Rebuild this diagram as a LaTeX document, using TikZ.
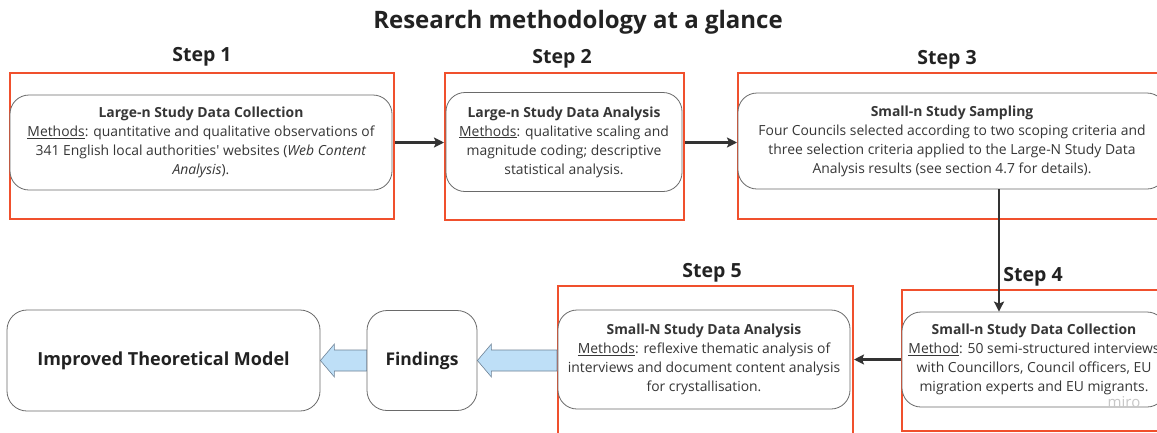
\documentclass[tikz,border=0pt]{standalone}
\usepackage{fontspec}
\setmainfont{Open Sans}
\usetikzlibrary{arrows.meta,calc}
\definecolor{redbox}{HTML}{F0502D}
\definecolor{boxline}{HTML}{6A6A6A}
\definecolor{txt}{HTML}{363636}
\definecolor{dark}{HTML}{222222}
\definecolor{blkfill}{HTML}{BEDFF7}
\definecolor{blkline}{HTML}{6E8296}
\definecolor{conncol}{HTML}{333333}
\newcommand{\straightapos}{{\addfontfeature{Ligatures=TeXOff}'}}
\begin{document}
\begin{tikzpicture}[x=1pt,y=-1pt,
  redrect/.style={draw=redbox,line width=2pt,inner sep=0pt,anchor=north west},
  stepbox/.style={draw=boxline,line width=0.8pt,rounded corners=19pt,fill=white,inner sep=0pt,
     align=center,text=txt,font=\fontsize{13.9}{19}\selectfont},
  steplabel/.style={font=\fontsize{19.5}{21}\selectfont\bfseries,text=dark},
  conn/.style={draw=conncol,line width=2.2pt,-{Stealth[length=10pt,width=10pt,inset=2pt]}},
  blk/.style={draw=blkline,line width=0.6pt,fill=blkfill,line join=miter}]
\useasboundingbox (0,0) rectangle (1157,432);
\fill[white] (0,0) rectangle (1157,432);

% title
\node[font=\fontsize{24}{26}\selectfont\bfseries,text=dark] (title) at (578,22) {Research methodology at a glance};

% red frames
\node[redrect,minimum width=384pt,minimum height=146pt] (r1) at (9,72) {};
\node[redrect,minimum width=239pt,minimum height=147pt] (r2) at (444,72) {};
\node[redrect,minimum width=440pt,minimum height=146pt] (r3) at (737,72) {};
\node[redrect,minimum width=270pt,minimum height=141pt] (r4) at (901,289) {};
\node[redrect,minimum width=295pt,minimum height=160pt] (r5) at (557,285) {};

% step labels
\node[steplabel] (l1) at (202,57) {Step 1};
\node[steplabel] (l2) at (562,59) {Step 2};
\node[steplabel] (l3) at (947,60) {Step 3};
\node[steplabel] (l4) at (1033,277) {Step 4};
\node[steplabel] (l5) at (712,273) {Step 5};

% step boxes
\node[stepbox,minimum width=382pt,minimum height=95pt] (n1) at (201,142.5)
 {\textbf{Large-n Study Data Collection}\\
  \underline{Methods}: quantitative and qualitative observations of\\
  341 English local authorities\straightapos{} websites (\textit{Web Content}\\
  \textit{Analysis}).};
\node[stepbox,minimum width=236pt,minimum height=99pt] (n2) at (564,142)
 {\textbf{Large-n Study Data Analysis}\\
  \underline{Methods}: qualitative scaling and\\
  magnitude coding; descriptive\\
  statistical analysis.};
\node[stepbox,minimum width=428pt,minimum height=96pt] (n3) at (952,141)
 {\textbf{Small-n Study Sampling}\\
  Four Councils selected according to two scoping criteria and\\
  three selection criteria applied to the Large-N Study Data\\
  Analysis results (see section 4.7 for details).};
\node[stepbox,minimum width=264pt,minimum height=95pt] (n4) at (1034,359.5)
 {\textbf{Small-n Study Data Collection}\\
  \underline{Method}: 50 semi-structured interviews\\
  with Councillors, Council officers, EU\\
  migration experts and EU migrants.};
\node[stepbox,minimum width=292pt,minimum height=99pt] (n5) at (704,359.5)
 {\textbf{Small-N Study Data Analysis}\\
  \underline{Methods}: reflexive thematic analysis of\\
  interviews and document content analysis\\
  for crystallisation.};

% outcome boxes
\node[stepbox,minimum width=110pt,minimum height=100pt,rounded corners=20pt,
      font=\fontsize{17.5}{20}\selectfont\bfseries,text=dark] (fd) at (422,360.5) {Findings};
\node[stepbox,minimum width=313pt,minimum height=101pt,rounded corners=20pt,
      font=\fontsize{18}{20}\selectfont\bfseries,text=dark] (itm) at (163.5,360.5) {Improved Theoretical Model};

% watermark
\node[font=\fontsize{15}{16}\selectfont,text=black!22] (miro) at (1124,402) {miro};

% connectors
\draw[conn] (r1.east |- n1.east) -- (r2.west |- n1.east);
\draw[conn] (r2.east |- n1.east) -- (r3.west |- n1.east);
\coordinate (vx) at (999,0);
\draw[conn] (n3.south -| vx) -- (n4.north -| vx);
\draw[conn] (r4.west |- n4.west) -- (r5.east |- n4.west);

% block arrows
\draw[blk] (fd.east) -- ++(14,-16.5) -- ++(0,6) -- ($(r5.west |- fd.east)+(0,-10.5)$)
  -- ++(0,21) -- ($(fd.east)+(14,10.5)$) -- ++(0,6) -- cycle;
\draw[blk] (itm.east) -- ++(14,-16.5) -- ++(0,6) -- ($(fd.west |- itm.east)+(0,-10.5)$)
  -- ++(0,21) -- ($(itm.east)+(14,10.5)$) -- ++(0,6) -- cycle;
\end{tikzpicture}
\end{document}
